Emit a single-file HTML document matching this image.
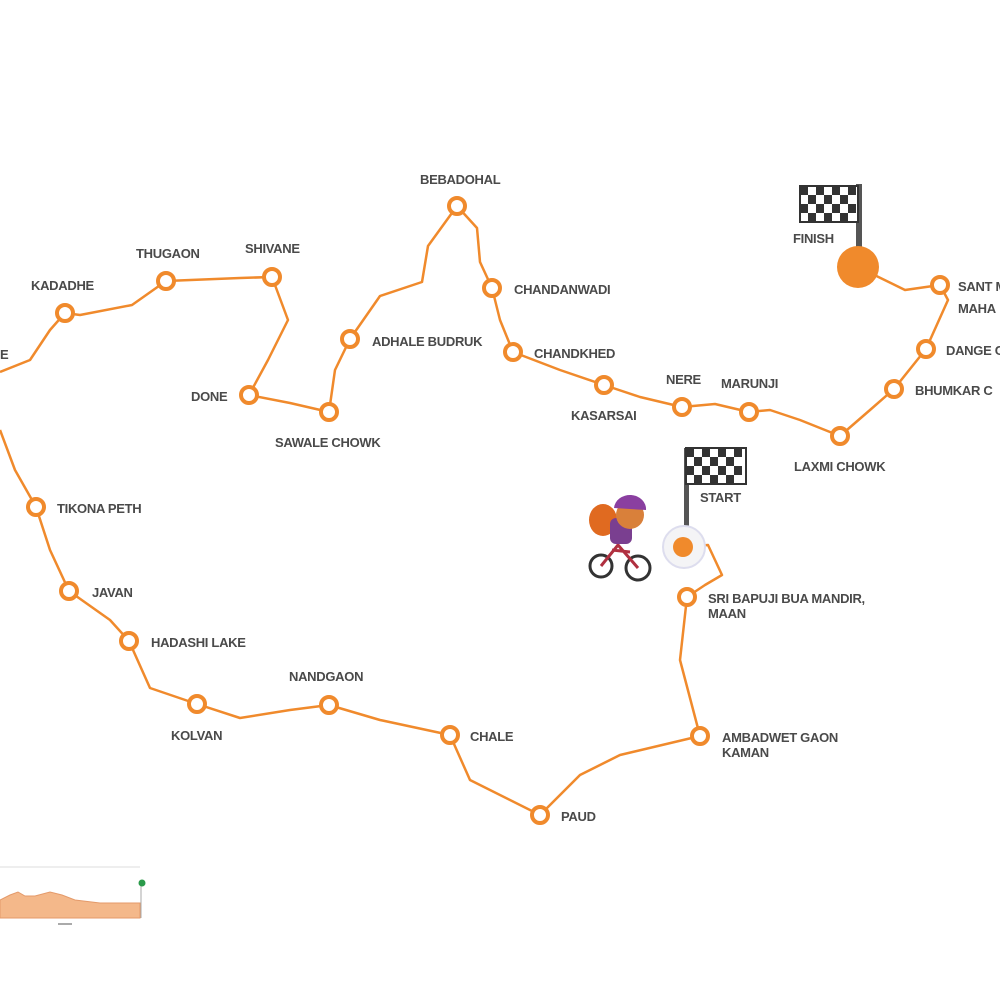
<!DOCTYPE html>
<html><head><style>body{margin:0;background:#fff}svg text{font-family:"Liberation Sans",sans-serif;font-size:13px;fill:#4a4a4a;font-weight:bold;letter-spacing:-0.3px}</style></head><body>
<svg width="1000" height="1000" viewBox="0 0 1000 1000" xmlns="http://www.w3.org/2000/svg">
<rect width="1000" height="1000" fill="#fff"/>
<g fill="none" stroke="#f08a2c" stroke-width="2.5" stroke-linejoin="round">
<path d="M858,267 L905,290 L940,285 L948,300 L926,349 L894,389 L870,410 L840,436 L800,420 L770,410 L749,412 L715,404 L682,407 L640,397 L604,385 L560,370 L513,352 L500,320 L492,288 L480,262 L477,228 L457,206 L428,246 L422,282 L380,296 L350,339 L335,370 L329,412 L290,403 L249,395 L268,360 L288,320 L272,277 L240,278 L166,281 L132,305 L80,315 L65,313 L50,330 L30,360 L0,372"/>
<path d="M0,430 L15,470 L36,507 L50,550 L69,591 L110,620 L129,641 L150,688 L197,704 L240,718 L290,710 L329,705 L380,720 L450,735 L470,780 L540,815 L580,775 L620,755 L700,736 L680,660 L687,597 L705,585 L722,575 L708,545 L684,547"/>
</g>
<g fill="#fff" stroke="#f08a2c" stroke-width="4">
<circle cx="940" cy="285" r="8"/><circle cx="926" cy="349" r="8"/><circle cx="894" cy="389" r="8"/><circle cx="840" cy="436" r="8"/><circle cx="749" cy="412" r="8"/><circle cx="682" cy="407" r="8"/><circle cx="604" cy="385" r="8"/><circle cx="513" cy="352" r="8"/><circle cx="492" cy="288" r="8"/><circle cx="457" cy="206" r="8"/><circle cx="350" cy="339" r="8"/><circle cx="329" cy="412" r="8"/><circle cx="249" cy="395" r="8"/><circle cx="272" cy="277" r="8"/><circle cx="166" cy="281" r="8"/><circle cx="65" cy="313" r="8"/><circle cx="36" cy="507" r="8"/><circle cx="69" cy="591" r="8"/><circle cx="129" cy="641" r="8"/><circle cx="197" cy="704" r="8"/><circle cx="329" cy="705" r="8"/><circle cx="450" cy="735" r="8"/><circle cx="540" cy="815" r="8"/><circle cx="700" cy="736" r="8"/><circle cx="687" cy="597" r="8"/>
</g>
<!-- finish -->
<rect x="856" y="184" width="6" height="86" fill="#555"/>
<g fill="#333"><rect x="800" y="186" width="58" height="36" fill="#fff" stroke="#333" stroke-width="2"/>
<path d="M800,186h8v9h-8zM816,186h8v9h-8zM832,186h8v9h-8zM848,186h8v9h-8zM808,195h8v9h-8zM824,195h8v9h-8zM840,195h8v9h-8zM800,204h8v9h-8zM816,204h8v9h-8zM832,204h8v9h-8zM848,204h8v9h-8zM808,213h8v9h-8zM824,213h8v9h-8zM840,213h8v9h-8z"/></g>
<circle cx="858" cy="267" r="21" fill="#f08a2c"/>
<!-- start -->
<rect x="684" y="448" width="5" height="92" fill="#555"/>
<rect x="686" y="448" width="60" height="36" fill="#fff" stroke="#333" stroke-width="2"/>
<path fill="#333" d="M686,448h8v9h-8zM702,448h8v9h-8zM718,448h8v9h-8zM734,448h8v9h-8zM694,457h8v9h-8zM710,457h8v9h-8zM726,457h8v9h-8zM686,466h8v9h-8zM702,466h8v9h-8zM718,466h8v9h-8zM734,466h8v9h-8zM694,475h8v9h-8zM710,475h8v9h-8zM726,475h8v9h-8z"/>
<circle cx="684" cy="547" r="21" fill="#f4f4f6" stroke="#dde" stroke-width="2"/>
<circle cx="683" cy="547" r="10" fill="#f08a2c"/>
<!-- cyclist -->
<g><circle cx="601" cy="566" r="11" fill="none" stroke="#333" stroke-width="3"/><circle cx="638" cy="568" r="12" fill="none" stroke="#333" stroke-width="3"/>
<path d="M601,566 L618,545 L638,568 M612,550 L630,552" stroke="#b03040" stroke-width="3" fill="none"/>
<ellipse cx="603" cy="520" rx="14" ry="16" fill="#e06a20"/>
<rect x="610" y="518" width="22" height="26" rx="6" fill="#7a3f90"/>
<circle cx="630" cy="515" r="14" fill="#d9803a"/>
<path d="M614,508 a16,14 0 0 1 32,2 z" fill="#8a3fa0"/></g>
<text x="420" y="184">BEBADOHAL</text>
<text x="136" y="258">THUGAON</text>
<text x="245" y="253">SHIVANE</text>
<text x="31" y="290">KADADHE</text>
<text x="514" y="294">CHANDANWADI</text>
<text x="372" y="346">ADHALE BUDRUK</text>
<text x="534" y="358">CHANDKHED</text>
<text x="191" y="401">DONE</text>
<text x="275" y="447">SAWALE CHOWK</text>
<text x="571" y="420">KASARSAI</text>
<text x="666" y="384">NERE</text>
<text x="721" y="388">MARUNJI</text>
<text x="794" y="471">LAXMI CHOWK</text>
<text x="793" y="243">FINISH</text>
<text x="958" y="291">SANT M</text>
<text x="958" y="313">MAHA</text>
<text x="946" y="355">DANGE C</text>
<text x="915" y="395">BHUMKAR C</text>
<text x="700" y="502">START</text>
<text x="57" y="513">TIKONA PETH</text>
<text x="92" y="597">JAVAN</text>
<text x="151" y="647">HADASHI LAKE</text>
<text x="289" y="681">NANDGAON</text>
<text x="171" y="740">KOLVAN</text>
<text x="470" y="741">CHALE</text>
<text x="561" y="821">PAUD</text>
<text x="722" y="742">AMBADWET GAON</text>
<text x="722" y="757">KAMAN</text>
<text x="708" y="603">SRI BAPUJI BUA MANDIR,</text>
<text x="708" y="618">MAAN</text>
<text x="0" y="359">E</text>
<!-- elevation -->
<line x1="0" y1="867" x2="140" y2="867" stroke="#ddd"/>
<path d="M0,900 L10,895 L18,892 L25,896 L35,896 L50,892 L62,895 L75,900 L100,903 L140,903 L140,918 L0,918 Z" fill="#f4b88a" stroke="#e49a6a"/>
<line x1="141" y1="884" x2="141" y2="918" stroke="#aaa"/>
<circle cx="142" cy="883" r="3.5" fill="#2a9a4a"/>
<rect x="58" y="923" width="14" height="2" fill="#aaa"/>
</svg>
</body></html>
